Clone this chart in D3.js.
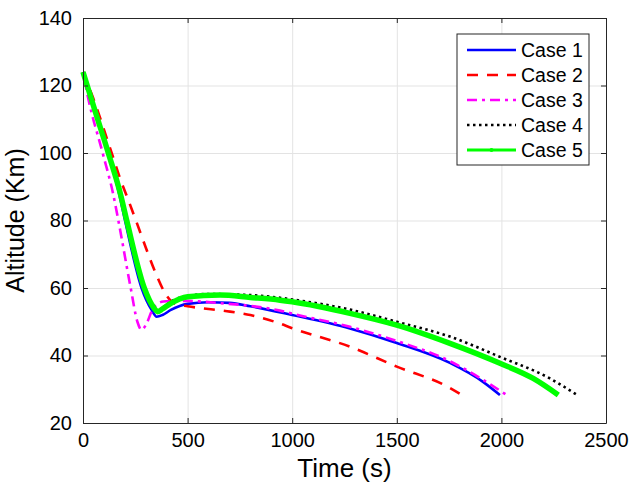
<!DOCTYPE html>
<html>
<head>
<meta charset="UTF-8">
<script src="https://cdnjs.cloudflare.com/ajax/libs/d3/7.8.5/d3.min.js"></script>
<style>
  body { margin: 0; background: #fff; }
  text { font-family: "Liberation Sans", Arial, Helvetica, sans-serif; fill: #000; }
</style>
</head>
<body>
<div id="chart"></div>
<script>
// data: time (s) and altitude (km) per case
const case1T = [0, 60, 121, 174, 201, 280, 330, 352, 380, 420, 500, 600, 700, 800, 1000, 1276, 1500, 1754, 1912, 1993];
const case1V = [124, 112, 100, 87.6, 80, 60, 53.3, 51.5, 52, 53.5, 55.3, 55.8, 55.6, 54.6, 52, 48, 43.7, 37.8, 32.2, 28.3];

const case2T = [0, 49, 137, 180, 217, 256, 300, 350, 392, 420, 448, 500, 703, 800, 926, 1000, 1276, 1500, 1754, 1810];
const case2V = [124, 116.2, 100, 92, 86, 79.5, 72, 64, 58.5, 56.2, 55.2, 54.6, 53, 52, 49.8, 48.1, 42.6, 36.7, 30.4, 28.3];

const case3T = [0, 25, 94, 145, 169, 228, 260, 280, 300, 336, 384, 450, 500, 655, 800, 942, 1000, 1276, 1500, 1754, 1912, 2020];
const case3V = [124, 116.2, 100, 87.6, 80, 60, 50, 47.6, 49, 54, 56, 56.2, 56.2, 55.5, 54.7, 53.3, 52.4, 48.5, 44.3, 38.3, 32.8, 28.5];

const case4T = [0, 60, 121, 180, 209, 293, 340, 355, 380, 416, 500, 591, 800, 942, 1000, 1276, 1500, 1754, 1993, 2232, 2357];
const case4V = [124, 112, 100, 87.6, 80, 60, 54, 53, 54, 55.8, 57.6, 58.2, 57.9, 57.1, 56.6, 53.6, 50, 45.6, 39.6, 33.2, 28.5];

const case5T = [0, 60, 121, 180, 209, 293, 340, 355, 380, 416, 500, 655, 800, 942, 1000, 1276, 1500, 1754, 1993, 2152, 2272];
const case5V = [124, 112, 100, 87.6, 80, 60, 54, 53, 53.8, 55.3, 57.4, 57.9, 57.2, 56.4, 55.9, 52.5, 49, 43.6, 37.7, 33.2, 28.3];

const caseNames = ['Case 1', 'Case 2', 'Case 3', 'Case 4', 'Case 5'];
const xTicks = [0, 500, 1000, 1500, 2000, 2500];
const yTicks = [20, 40, 60, 80, 100, 120, 140];

const width = 632, height = 489;
const margin = {top: 18, right: 26, bottom: 66, left: 83};
const iw = width - margin.left - margin.right;
const ih = height - margin.top - margin.bottom;

const svg = d3.select('#chart').append('svg')
    .attr('width', width)
    .attr('height', height);

const g = svg.append('g').attr('transform', `translate(${margin.left},${margin.top})`);

const x = d3.scaleLinear().domain([0, 2500]).range([0, iw]);
const y = d3.scaleLinear().domain([20, 140]).range([ih, 0]);

// grid
g.append('g')
    .attr('transform', `translate(0,${ih})`)
    .call(d3.axisBottom(x).tickValues(xTicks).tickSize(-ih).tickFormat(''))
    .call(s => s.select('.domain').remove())
    .selectAll('line').attr('stroke', '#e3e3e3');
g.append('g')
    .call(d3.axisLeft(y).tickValues(yTicks).tickSize(-iw).tickFormat(''))
    .call(s => s.select('.domain').remove())
    .selectAll('line').attr('stroke', '#e3e3e3');

// lines
const series = [
    {t: case1T, v: case1V, color: '#0000ff', w: 2.6, dash: null},
    {t: case2T, v: case2V, color: '#ff0000', w: 2.6, dash: '11,9'},
    {t: case3T, v: case3V, color: '#ff00ff', w: 2.6, dash: '10,5,3,5'},
    {t: case4T, v: case4V, color: '#000000', w: 2.6, dash: '2.5,3.5'},
    {t: case5T, v: case5V, color: '#00ff00', w: 5.5, dash: null}
];

const line = d3.line()
    .x(d => x(d[0]))
    .y(d => y(d[1]))
    .curve(d3.curveMonotoneX);

series.forEach(s => {
    g.append('path')
        .datum(s.t.map((t, i) => [t, s.v[i]]))
        .attr('fill', 'none')
        .attr('stroke', s.color)
        .attr('stroke-width', s.w)
        .attr('stroke-dasharray', s.dash)
        .attr('stroke-linejoin', 'round')
        .attr('d', line);
});

// axes (box with inward ticks)
const axisColor = '#262626';
function styleAxis(sel) {
    sel.selectAll('.domain').attr('stroke', axisColor);
    sel.selectAll('line').attr('stroke', axisColor);
    sel.selectAll('text').attr('font-size', 20).attr('fill', '#000')
        .attr('font-family', '"Liberation Sans", Arial, sans-serif');
}
g.append('g')
    .attr('transform', `translate(0,${ih})`)
    .call(d3.axisBottom(x).tickValues(xTicks).tickFormat(d3.format('d'))
        .tickSizeInner(-5).tickSizeOuter(0).tickPadding(10))
    .call(styleAxis);
g.append('g')
    .call(d3.axisLeft(y).tickValues(yTicks).tickFormat(d3.format('d'))
        .tickSizeInner(-5).tickSizeOuter(0).tickPadding(11))
    .call(styleAxis);
g.append('g')
    .call(d3.axisTop(x).tickValues(xTicks).tickSizeInner(-5).tickSizeOuter(0).tickFormat(''))
    .call(styleAxis);
g.append('g')
    .attr('transform', `translate(${iw},0)`)
    .call(d3.axisRight(y).tickValues(yTicks).tickSizeInner(-5).tickSizeOuter(0).tickFormat(''))
    .call(styleAxis);

// axis labels
svg.append('text')
    .attr('x', margin.left + iw / 2)
    .attr('y', 477)
    .attr('text-anchor', 'middle')
    .attr('font-size', 26)
    .text('Time (s)');
svg.append('text')
    .attr('transform', `translate(24,${margin.top + ih / 2}) rotate(-90)`)
    .attr('text-anchor', 'middle')
    .attr('font-size', 25)
    .text('Altitude (Km)');

// legend
const lg = svg.append('g').attr('transform', 'translate(457,34)');
lg.append('rect')
    .attr('width', 132).attr('height', 131)
    .attr('fill', '#fff')
    .attr('stroke', axisColor).attr('stroke-width', 1);
series.forEach((s, i) => {
    const cy = 16 + i * 25;
    lg.append('line')
        .attr('x1', 10).attr('x2', 59)
        .attr('y1', cy).attr('y2', cy)
        .attr('stroke', s.color)
        .attr('stroke-width', i === 4 ? 3 : 2.6)
        .attr('stroke-dasharray', s.dash);
    if (i === 4) {
        lg.append('circle').attr('cx', 34.5).attr('cy', cy).attr('r', 2).attr('fill', s.color);
    }
    lg.append('text')
        .attr('x', 64).attr('y', cy + 7)
        .attr('font-size', 19.5)
        .text(caseNames[i]);
});
</script>
</body>
</html>
